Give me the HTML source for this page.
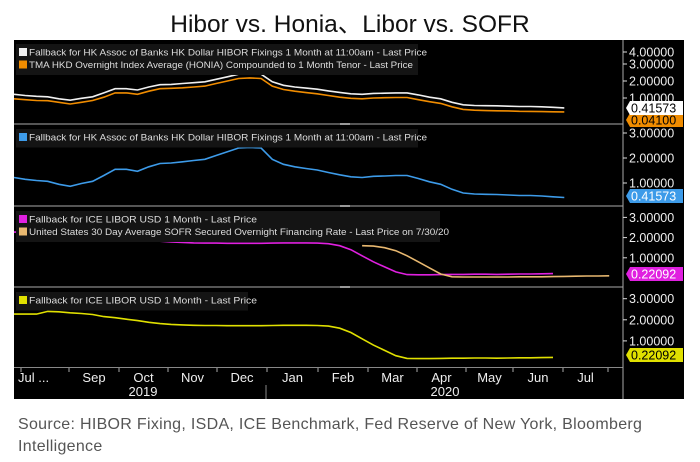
<!DOCTYPE html>
<html><head><meta charset="utf-8"><style>
body{margin:0;background:#fff;width:700px;height:462px;overflow:hidden;font-family:"Liberation Sans","Noto Sans CJK SC",sans-serif}
#title{position:absolute;left:0;width:700px;top:5px;text-align:center;font-size:24.5px;color:#111}
#src{position:absolute;left:18px;top:414px;width:650px;font-size:16px;letter-spacing:0.3px;line-height:22px;color:#555}
svg{position:absolute;left:0;top:0}
</style></head><body>
<div id="title">Hibor vs. Honia、Libor vs. SOFR</div>
<svg id="chart" width="700" height="462"></svg>
<div id="src">Source: HIBOR Fixing, ISDA, ICE Benchmark, Fed Reserve of New York, Bloomberg Intelligence</div>
<script>
const months=["Jul ...","Sep","Oct","Nov","Dec","Jan","Feb","Mar","Apr","May","Jun","Jul"];
const years=["2019","2020"];
const hibor=[1.22,1.15,1.1,1.07,0.95,0.87,0.98,1.07,1.3,1.55,1.55,1.47,1.65,1.78,1.8,1.85,1.9,1.95,2.1,2.25,2.4,2.42,2.4,1.95,1.75,1.65,1.58,1.52,1.42,1.33,1.25,1.22,1.27,1.28,1.3,1.3,1.18,1.05,0.95,0.75,0.6,0.56,0.55,0.54,0.52,0.5,0.5,0.48,0.45,0.42];
const honia=[0.95,0.9,0.85,0.84,0.75,0.65,0.75,0.85,1.05,1.3,1.3,1.22,1.4,1.55,1.57,1.6,1.65,1.7,1.85,2.0,2.15,2.18,2.15,1.7,1.5,1.4,1.32,1.25,1.15,1.05,0.98,0.95,1.0,1.02,1.03,1.03,0.9,0.78,0.68,0.48,0.33,0.28,0.26,0.25,0.24,0.22,0.21,0.2,0.19,0.18];
const libor=[2.27,2.27,2.27,2.4,2.38,2.33,2.3,2.25,2.15,2.1,2.03,1.96,1.88,1.82,1.78,1.76,1.74,1.73,1.73,1.72,1.72,1.72,1.72,1.73,1.74,1.74,1.74,1.73,1.7,1.6,1.4,1.1,0.8,0.55,0.3,0.17,0.16,0.16,0.17,0.18,0.18,0.19,0.19,0.18,0.19,0.2,0.2,0.21,0.22];
const sofrStart=31;
const sofr=[1.6,1.58,1.5,1.35,1.1,0.8,0.5,0.2,0.06,0.05,0.05,0.05,0.05,0.05,0.06,0.06,0.06,0.07,0.08,0.09,0.1,0.1,0.11];
const tickVals=[1,2,3];
const p1Ticks=[1,2,3,4];
const lastHibor="0.41573", lastLibor="0.22092";

const NS="http://www.w3.org/2000/svg";
const svg=document.getElementById('chart');
function el(t,a,p){const e=document.createElementNS(NS,t);for(const k in a)e.setAttribute(k,a[k]);(p||svg).appendChild(e);return e;}
const xW=w=>14+w*11.23;
const y1=v=>{const ys=[98,81,64,52];if(v<=1)return 98+(1-v)*17;if(v>=4)return 52;const i=Math.floor(v)-1;return ys[i]+(ys[i+1]-ys[i])*(v-Math.floor(v));};
const y2=v=>208-v*25;
const y3=v=>278-v*20.2;
const y4=v=>362-v*21.1;
const bg=el('rect',{x:14,y:40,width:670,height:359,fill:'#000'});


[123,205,286].forEach(y=>{const s=el('rect',{x:14,y:y,width:609,height:2,fill:'#555'});


el('rect',{x:340,y:y,width:10,height:2,fill:'#999'});});
el('rect',{x:14,y:367,width:609,height:1,fill:'#888'});
const ax=el('line',{x1:623,y1:40,x2:623,y2:399,stroke:'#aaa','stroke-width':1});


function line(arr,xf,yf,col,off,name){const pts=arr.map((v,i)=>xf(i+(off||0)).toFixed(1)+','+yf(v).toFixed(1)).join(' ');
const p=el('polyline',{points:pts,fill:'none',stroke:col,'stroke-width':1.6});

}
function ticks(vals,yf,name){vals.forEach(v=>{const y=yf(v);el('line',{x1:623,y1:y,x2:627,y2:y,stroke:'#ddd'});
const t=el('text',{x:629,y:y+4.5,fill:'#eee','font-size':12.5});t.textContent=v.toFixed(5);

});}
function legend(x,y,w,items,name){const g=el('g',{});

el('rect',{x:x,y:y,width:w,height:items.length*12.5+6,fill:'#141414'},g);
items.forEach((it,i)=>{el('rect',{x:x+3,y:y+4+i*12.5,width:8,height:8,fill:it[0]},g);
const t=el('text',{x:x+13,y:y+11.5+i*12.5,fill:'#ddd','font-size':9.5,textLength:it[2],lengthAdjust:'spacingAndGlyphs'},g);t.textContent=it[1];});}
function valBox(y,col,txt,tcol,name){const g=el('g',{});

el('path',{d:`M626 ${y+7} L630 ${y} H683 V${y+14} H630 Z`,fill:col},g);
const t=el('text',{x:631,y:y+11.5,fill:tcol,'font-size':12.5},g);t.textContent=txt;}
ticks(p1Ticks,y1,'p1-tick-label');
line(honia,xW,y1,'#f08c00',0,'honia-line');
line(hibor,xW,y1,'#f0f0f0',0,'hibor-line-top');
legend(16,44,402,[['#f0f0f0','Fallback for HK Assoc of Banks HK Dollar HIBOR Fixings 1 Month at 11:00am - Last Price',398],['#f08c00','TMA HKD Overnight Index Average (HONIA) Compounded to 1 Month Tenor - Last Price',384]],'legend-panel1');
valBox(113,'#f08c00','0.04100','#000','honia-value-box');
valBox(101,'#fff','0.41573','#000','hibor-value-box-top');
ticks(tickVals,y2,'p2-tick-label');
line(hibor,xW,y2,'#3d9be9',0,'hibor-line');
legend(16,129,402,[['#3d9be9','Fallback for HK Assoc of Banks HK Dollar HIBOR Fixings 1 Month at 11:00am - Last Price',398]],'legend-panel2');
valBox(189,'#3d9be9',lastHibor,'#fff','hibor-value-box');
ticks(tickVals,y3,'p3-tick-label');
line(libor,xW,y3,'#e020e0',0,'libor-line');
line(sofr,xW,y3,'#e8b870',sofrStart,'sofr-line');
legend(16,211,424,[['#e020e0','Fallback for ICE LIBOR USD 1 Month - Last Price',228],['#e8b870','United States 30 Day Average SOFR Secured Overnight Financing Rate - Last Price on 7/30/20',420]],'legend-panel3');
valBox(267,'#e020e0',lastLibor,'#fff','libor-value-box');
ticks(tickVals,y4,'p4-tick-label');
line(libor,xW,y4,'#e0e000',0,'libor-line-yellow');
legend(16,292,232,[['#e0e000','Fallback for ICE LIBOR USD 1 Month - Last Price',228]],'legend-panel4');
valBox(348,'#e0e000',lastLibor,'#000','libor-value-box-yellow');
const mTicks=[21,69,119,168,217,267,318,368,417,466,513,563,608];
mTicks.forEach(x=>el('line',{x1:x,y1:368,x2:x,y2:372,stroke:'#aaa'}));
months.forEach((m,i)=>{const x=i==0?18:(mTicks[i]+mTicks[i+1])/2;
const t=el('text',{x:x,y:382,fill:'#eee','font-size':13,'text-anchor':i==0?'start':'middle'});t.textContent=m;

});
el('line',{x1:266,y1:385,x2:266,y2:399,stroke:'#888'});
[[143,years[0]],[445,years[1]]].forEach(a=>{const t=el('text',{x:a[0],y:396,fill:'#eee','font-size':13,'text-anchor':'middle'});t.textContent=a[1];

});
</script>
</body></html>
